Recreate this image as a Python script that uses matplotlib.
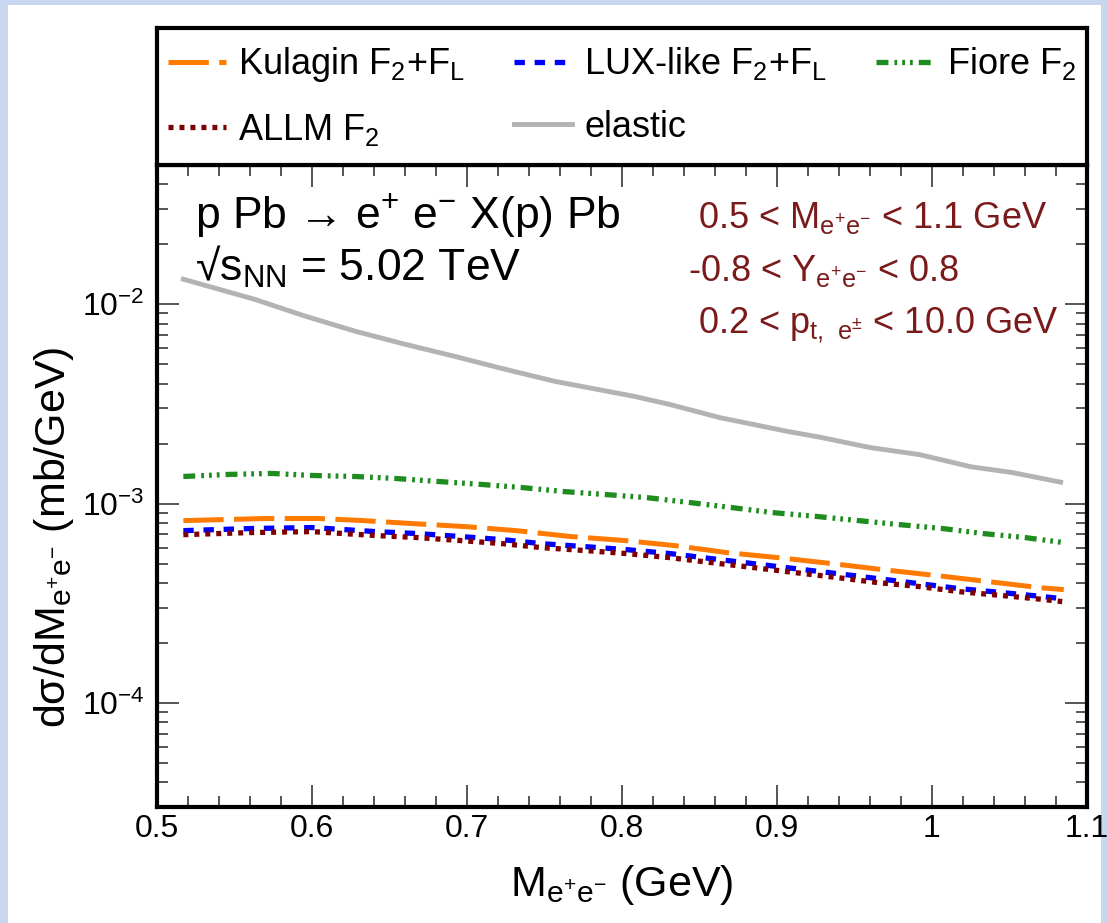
import matplotlib
matplotlib.use("Agg")
import matplotlib.pyplot as plt
from matplotlib.patches import Rectangle
from matplotlib.ticker import MultipleLocator, LogLocator, NullFormatter

plt.rcParams['font.family'] = ['Liberation Sans', 'DejaVu Sans']
plt.rcParams['mathtext.default'] = 'regular'
plt.rcParams['lines.scale_dashes'] = False

# values
elastic_x = [0.517, 0.563, 0.596, 0.628, 0.660, 0.692, 0.725, 0.757, 0.808,
             0.831, 0.863, 0.907, 0.928, 0.960, 0.992, 1.025, 1.052, 1.083]
elastic_y = [0.01336, 0.01059, 0.00870, 0.00732, 0.00630, 0.00548, 0.00471,
             0.00410, 0.00345, 0.00314, 0.00270, 0.00230, 0.00215, 0.00191,
             0.00176, 0.00153, 0.00143, 0.00128]

fiore_x = [0.517, 0.546, 0.574, 0.600, 0.628, 0.654, 0.681, 0.710, 0.736,
           0.763, 0.790, 0.816, 0.844, 0.871, 0.897, 0.926, 0.952, 0.979,
           1.007, 1.033, 1.060, 1.085]
fiore_y = [0.001367, 0.001400, 0.001416, 0.001383, 0.001367, 0.001336,
           0.001291, 0.001246, 0.001202, 0.001148, 0.001109, 0.001071,
           0.001011, 0.000954, 0.000901, 0.000861, 0.000822, 0.000784,
           0.000749, 0.000707, 0.000675, 0.000637]

kulagin_x = [0.517, 0.570, 0.605, 0.632, 0.665, 0.699, 0.732, 0.767, 0.802,
             0.834, 0.868, 0.901, 0.936, 0.968, 1.003, 1.036, 1.070, 1.085]
kulagin_y = [0.000821, 0.000841, 0.000841, 0.000822, 0.000793, 0.000766,
             0.000731, 0.000683, 0.000652, 0.000615, 0.000567, 0.000535,
             0.000499, 0.000466, 0.000435, 0.000406, 0.000378, 0.000370]

lux_x = [0.517, 0.560, 0.600, 0.641, 0.668, 0.696, 0.723, 0.748, 0.776,
         0.803, 0.831, 0.857, 0.885, 0.912, 0.939, 0.965, 0.992, 1.018,
         1.046, 1.072, 1.084]
lux_y = [0.000731, 0.000749, 0.000758, 0.000723, 0.000707, 0.000683,
         0.000659, 0.000629, 0.000608, 0.000587, 0.000561, 0.000530,
         0.000499, 0.000471, 0.000445, 0.000420, 0.000396, 0.000374,
         0.000357, 0.000341, 0.000333]

allm_x = lux_x
allm_y = [0.000698, 0.000715, 0.000723, 0.000691, 0.000675, 0.000652,
          0.000629, 0.000601, 0.000581, 0.000561, 0.000535, 0.000506,
          0.000477, 0.000450, 0.000425, 0.000401, 0.000383, 0.000361,
          0.000345, 0.000330, 0.000322]

xticks = [0.5, 0.6, 0.7, 0.8, 0.9, 1.0, 1.1]
xtick_labels = ['0.5', '0.6', '0.7', '0.8', '0.9', '1', '1.1']

W, H = 1107, 923
fig = plt.figure(figsize=(W / 100, H / 100), dpi=100)
fig.patch.set_facecolor('#c9d6ef')
fig.add_artist(Rectangle((8 / W, 0), (1101 - 8) / W, 1 - 5 / H,
                         transform=fig.transFigure, facecolor='white',
                         edgecolor='none', zorder=-5))

ax = fig.add_axes([157 / W, 1 - 807 / H, 930 / W, 642 / H])
lax = fig.add_axes([157 / W, 1 - 165 / H, 930 / W, 137 / H])

ax.plot(kulagin_x, kulagin_y, color='#ff7a00', lw=3.6, dashes=(29, 7.5),
        label='Kulagin F$_2$+F$_L$')
ax.plot(lux_x, lux_y, color='#0000ff', lw=3.8, dashes=(7.5, 7),
        label='LUX-like F$_2$+F$_L$')
ax.plot(fiore_x, fiore_y, color='#1e8c1e', lw=3.8,
        dashes=(8.6, 4.3, 2.0, 3.6, 2.0, 3.6, 2.0, 4.3), label='Fiore F$_2$')
ax.plot(allm_x, allm_y, color='#7f0000', lw=3.8, dashes=(3.6, 4.3),
        label='ALLM F$_2$')
ax.plot(elastic_x, elastic_y, color='#b3b3b3', lw=3.5, label='elastic')

ax.set_yscale('log')
ax.set_xlim(0.5, 1.1)
ax.set_ylim(3e-5, 0.05)
ax.set_xticks(xticks, labels=xtick_labels)
ax.xaxis.set_minor_locator(MultipleLocator(0.02))
ax.yaxis.set_minor_locator(LogLocator(base=10, subs=range(2, 10)))
ax.yaxis.set_minor_formatter(NullFormatter())
ax.tick_params(which='both', direction='in', top=True, right=True,
               color='#555555', width=1.4)
ax.tick_params(which='major', length=16, labelsize=23, pad=5)
ax.tick_params(axis='y', which='major', pad=9)
ax.tick_params(which='minor', length=8)
for s in ax.spines.values():
    s.set_linewidth(3)

ax.set_xlabel('M$_{e^{+}e^{-}}$ (GeV)', fontsize=31, labelpad=14)
ax.set_ylabel('dσ/dM$_{e^{+}e^{-}}$ (mb/GeV)', fontsize=31)
ax.yaxis.set_label_coords(-0.087, 0.42)

ax.text(0.041, 0.902, 'p Pb → e$^{+}$ e$^{-}$ X(p) Pb', transform=ax.transAxes,
        fontsize=32)
ax.text(0.041, 0.82, '√s$_{NN}$ = 5.02 TeV', transform=ax.transAxes,
        fontsize=32)
red = '#7a1a1a'
ax.text(0.582, 0.902, '0.5 < M$_{e^{+}e^{-}}$ < 1.1 GeV', transform=ax.transAxes,
        fontsize=26, color=red)
ax.text(0.571, 0.82, '-0.8 < Y$_{e^{+}e^{-}}$ < 0.8', transform=ax.transAxes,
        fontsize=26, color=red)
ax.text(0.582, 0.738, '0.2 < p$_{t,\\ e^{±}}$ < 10.0 GeV', transform=ax.transAxes,
        fontsize=26, color=red)

# legend box above the plot
lax.set_xticks([])
lax.set_yticks([])
for s in lax.spines.values():
    s.set_linewidth(3)
h, l = ax.get_legend_handles_labels()
order = [0, 3, 1, 4, 2]
lax.legend([h[i] for i in order], [l[i] for i in order], loc='center',
           bbox_to_anchor=(0, 0, 1, 1), mode='expand', ncol=3, frameon=False,
           fontsize=26, handlelength=1.6, handletextpad=0.35,
           labelspacing=0.75, borderaxespad=0, borderpad=0.3)

fig.savefig('out.png', dpi=100, facecolor=fig.get_facecolor())
